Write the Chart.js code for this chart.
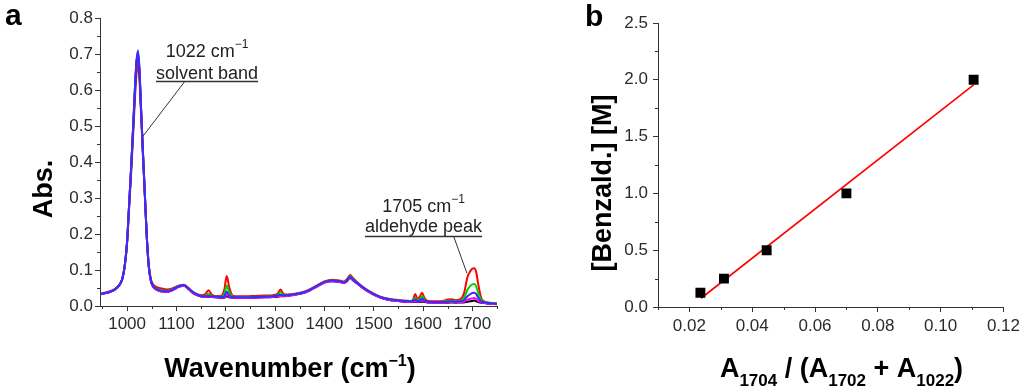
<!DOCTYPE html>
<html>
<head>
<meta charset="utf-8">
<script src="https://cdn.jsdelivr.net/npm/chart.js@4.4.0/dist/chart.umd.min.js"></script>
<style>
body{margin:0;background:#fff;}
.wrap{position:relative;width:1024px;height:390px;overflow:hidden;}
canvas{position:absolute;top:0;}
</style>
</head>
<body>
<div class="wrap">
<canvas id="chartA" width="512" height="390" style="left:0"></canvas>
<canvas id="chartB" width="512" height="390" style="left:512px"></canvas>
</div>
<script>
// ---- panel a: IR spectra ----
const wavenumbers = [945,955,965,975,985,990,995,1000,1004,1008,
  1012,1016,1019,1022,1025,1028,1032,1036,1040,1044,
  1048,1052,1058,1065,1072,1080,1090,1100,1108,1115,
  1122,1130,1140,1150,1158,1165,1172,1180,1190,1197,
  1202,1207,1214,1225,1240,1260,1280,1295,1305,1311,
  1317,1325,1340,1355,1370,1385,1400,1415,1430,1440,
  1446,1452,1458,1465,1475,1490,1505,1520,1540,1560,
  1575,1580,1584,1589,1593,1598,1603,1610,1625,1640,
  1650,1658,1666,1675,1683,1690,1696,1700,1704,1708,
  1712,1718,1725,1735,1750];

const absBlue = [0.033,0.036,0.040,0.046,0.060,0.075,0.110,0.180,0.280,0.380,
  0.490,0.610,0.680,0.710,0.660,0.560,0.430,0.310,0.190,0.110,
  0.072,0.057,0.049,0.044,0.042,0.041,0.045,0.052,0.057,0.058,
  0.052,0.042,0.033,0.028,0.027,0.028,0.027,0.026,0.025,0.027,
  0.040,0.029,0.025,0.024,0.024,0.025,0.026,0.027,0.029,0.031,
  0.030,0.030,0.033,0.037,0.045,0.056,0.067,0.071,0.069,0.066,
  0.072,0.081,0.074,0.066,0.055,0.041,0.030,0.022,0.017,0.014,
  0.013,0.014,0.018,0.014,0.015,0.020,0.015,0.012,0.011,0.011,
  0.012,0.013,0.012,0.013,0.016,0.027,0.033,0.036,0.037,0.033,
  0.022,0.013,0.010,0.008,0.006];

const absRed = [0.034,0.037,0.041,0.047,0.060,0.074,0.108,0.175,0.270,0.365,
  0.470,0.580,0.645,0.670,0.630,0.540,0.420,0.305,0.190,0.112,
  0.076,0.062,0.054,0.050,0.048,0.046,0.048,0.054,0.058,0.059,
  0.053,0.043,0.034,0.030,0.032,0.044,0.031,0.028,0.028,0.045,
  0.083,0.052,0.029,0.027,0.027,0.028,0.029,0.030,0.034,0.046,
  0.034,0.032,0.034,0.038,0.046,0.057,0.068,0.073,0.071,0.068,
  0.075,0.086,0.078,0.068,0.056,0.042,0.031,0.023,0.018,0.015,
  0.014,0.018,0.033,0.020,0.025,0.037,0.022,0.014,0.013,0.014,
  0.018,0.019,0.016,0.018,0.035,0.080,0.097,0.104,0.105,0.093,
  0.060,0.022,0.012,0.009,0.007];

const absGreen = [0.033,0.036,0.040,0.046,0.060,0.075,0.110,0.180,0.280,0.380,
  0.485,0.600,0.670,0.700,0.650,0.555,0.428,0.308,0.190,0.110,
  0.073,0.058,0.050,0.045,0.043,0.042,0.046,0.053,0.057,0.058,
  0.052,0.042,0.033,0.028,0.028,0.034,0.028,0.026,0.026,0.033,
  0.056,0.038,0.026,0.024,0.025,0.025,0.026,0.027,0.030,0.038,
  0.031,0.030,0.033,0.037,0.045,0.056,0.067,0.071,0.069,0.066,
  0.073,0.083,0.075,0.067,0.055,0.041,0.030,0.022,0.017,0.014,
  0.013,0.015,0.023,0.016,0.018,0.027,0.017,0.012,0.011,0.012,
  0.014,0.015,0.013,0.014,0.022,0.045,0.056,0.060,0.061,0.054,
  0.036,0.017,0.011,0.008,0.006];

const absMagenta = [0.032,0.035,0.039,0.045,0.059,0.074,0.110,0.180,0.280,0.380,
  0.490,0.610,0.680,0.705,0.655,0.555,0.428,0.308,0.188,0.108,
  0.070,0.055,0.047,0.042,0.040,0.039,0.043,0.050,0.055,0.056,
  0.050,0.040,0.031,0.026,0.025,0.026,0.025,0.024,0.023,0.024,
  0.031,0.026,0.023,0.022,0.022,0.023,0.024,0.025,0.027,0.028,
  0.028,0.028,0.031,0.035,0.043,0.054,0.065,0.069,0.067,0.064,
  0.070,0.079,0.072,0.064,0.053,0.039,0.028,0.020,0.015,0.012,
  0.011,0.012,0.014,0.012,0.013,0.015,0.013,0.010,0.009,0.009,
  0.010,0.011,0.010,0.011,0.012,0.017,0.020,0.021,0.022,0.019,
  0.014,0.010,0.008,0.006,0.005];

const absBlack = [0.032,0.035,0.039,0.045,0.059,0.074,0.110,0.180,0.280,0.380,
  0.490,0.605,0.675,0.700,0.650,0.555,0.428,0.308,0.188,0.108,
  0.070,0.055,0.047,0.042,0.040,0.039,0.043,0.050,0.055,0.056,
  0.050,0.040,0.031,0.026,0.025,0.025,0.025,0.024,0.023,0.023,
  0.027,0.024,0.023,0.022,0.022,0.023,0.024,0.025,0.026,0.027,
  0.027,0.028,0.031,0.035,0.043,0.054,0.065,0.069,0.067,0.064,
  0.069,0.078,0.071,0.064,0.053,0.039,0.028,0.020,0.015,0.012,
  0.011,0.011,0.012,0.011,0.011,0.012,0.011,0.010,0.009,0.009,
  0.009,0.010,0.009,0.010,0.010,0.012,0.013,0.014,0.015,0.013,
  0.011,0.009,0.008,0.006,0.005];

const xTicksA = [1000,1100,1200,1300,1400,1500,1600,1700];
const xMinorA = [950,1050,1150,1250,1350,1450,1550,1650,1750];
const yTicksA = [0,0.1,0.2,0.3,0.4,0.5,0.6,0.7,0.8];
const yMinorA = [0.05,0.15,0.25,0.35,0.45,0.55,0.65,0.75];

// ---- panel b: calibration ----
const ratio = [0.0235,0.031,0.0446,0.070,0.1105];
const benzald = [0.125,0.25,0.5,1.0,2.0];
const fitX = [0.0237,0.1105];
const fitY = [0.077,1.955];

const xTicksB = [0.02,0.04,0.06,0.08,0.10,0.12];
const xMinorB = [0.01,0.03,0.05,0.07,0.09,0.11];
const yTicksB = [0,0.5,1.0,1.5,2.0,2.5];
const yMinorB = [0.25,0.75,1.25,1.75,2.25];

const FONT = "'Liberation Sans', Arial, sans-serif";
const axisColor = '#333';
const textColor = '#2b2b2b';

const minorTicks = {
  id: 'minorTicks',
  afterDraw(chart, args, opts) {
    const ctx = chart.ctx, xs = chart.scales.x, ys = chart.scales.y;
    ctx.save();
    ctx.strokeStyle = axisColor;
    ctx.lineWidth = 1;
    ctx.beginPath();
    opts.x.forEach(v => {
      const px = Math.round(xs.getPixelForValue(v)) + 0.5;
      ctx.moveTo(px, xs.top); ctx.lineTo(px, xs.top + 3);
    });
    opts.y.forEach(v => {
      const py = Math.round(ys.getPixelForValue(v)) + 0.5;
      ctx.moveTo(ys.right, py); ctx.lineTo(ys.right - 3, py);
    });
    ctx.stroke();
    ctx.restore();
  }
};

function rich(ctx, parts, x, y, center) {
  let w = 0;
  parts.forEach(p => { ctx.font = p.font; w += ctx.measureText(p.t).width; });
  let cx = center ? x - w / 2 : x;
  ctx.textAlign = 'left';
  ctx.textBaseline = 'alphabetic';
  parts.forEach(p => {
    ctx.font = p.font;
    ctx.fillText(p.t, cx, y + (p.dy || 0));
    cx += ctx.measureText(p.t).width;
  });
  return w;
}

function rotatedText(ctx, t, font, x, y) {
  ctx.save();
  ctx.translate(x, y);
  ctx.rotate(-Math.PI / 2);
  ctx.font = font;
  ctx.textAlign = 'center';
  ctx.textBaseline = 'alphabetic';
  ctx.fillText(t, 0, 0);
  ctx.restore();
}

// annotation anchors in data units (wavenumber, absorbance)
const notes = [
  {top: '1022 cm', bottom: 'solvent band', x: 1162, yTop: 0.691, yBottom: 0.631, yLine: 0.624,
   lead: [[1117, 0.624], [1032.4, 0.472]]},
  {top: '1705 cm', bottom: 'aldehyde peak', x: 1601, yTop: 0.262, yBottom: 0.206, yLine: 0.194,
   lead: [[1662, 0.194], [1689, 0.091]]}
];

const textA = {
  id: 'textA',
  afterDraw(chart) {
    const ctx = chart.ctx, xs = chart.scales.x, ys = chart.scales.y;
    ctx.save();
    ctx.fillStyle = '#000';
    ctx.font = 'bold 30px ' + FONT;
    ctx.textAlign = 'left';
    ctx.fillText('a', 5, 25);
    rotatedText(ctx, 'Abs.', 'bold 27px ' + FONT, 52, 189);
    rich(ctx, [
      {t: 'Wavenumber (cm', font: 'bold 27px ' + FONT},
      {t: '\u22121', font: 'bold 16px ' + FONT, dy: -11},
      {t: ')', font: 'bold 27px ' + FONT}
    ], 290, 377, true);

    ctx.fillStyle = '#222';
    ctx.strokeStyle = '#333';
    notes.forEach(n => {
      const cx = xs.getPixelForValue(n.x);
      rich(ctx, [
        {t: n.top, font: '18px ' + FONT},
        {t: '\u22121', font: '12px ' + FONT, dy: -9}
      ], cx, ys.getPixelForValue(n.yTop), true);
      ctx.font = '18px ' + FONT;
      const w = rich(ctx, [{t: n.bottom, font: '18px ' + FONT}], cx, ys.getPixelForValue(n.yBottom), true);
      const ly = Math.round(ys.getPixelForValue(n.yLine)) + 0.5;
      ctx.lineWidth = 1.5;
      ctx.beginPath();
      ctx.moveTo(cx - w / 2, ly); ctx.lineTo(cx + w / 2, ly);
      ctx.stroke();
      ctx.lineWidth = 1;
      ctx.beginPath();
      ctx.moveTo(xs.getPixelForValue(n.lead[0][0]), ys.getPixelForValue(n.lead[0][1]));
      ctx.lineTo(xs.getPixelForValue(n.lead[1][0]), ys.getPixelForValue(n.lead[1][1]));
      ctx.stroke();
    });
    ctx.restore();
  }
};

const textB = {
  id: 'textB',
  afterDraw(chart) {
    const ctx = chart.ctx;
    ctx.save();
    ctx.fillStyle = '#000';
    ctx.font = 'bold 30px ' + FONT;
    ctx.textAlign = 'left';
    ctx.fillText('b', 73, 26);
    rotatedText(ctx, '[Benzald.] [M]', 'bold 27px ' + FONT, 99, 183);
    const big = 'bold 27px ' + FONT, sub = 'bold 17px ' + FONT;
    rich(ctx, [
      {t: 'A', font: big}, {t: '1704', font: sub, dy: 9},
      {t: ' / (A', font: big}, {t: '1702', font: sub, dy: 9},
      {t: ' + A', font: big}, {t: '1022', font: sub, dy: 9},
      {t: ')', font: big}
    ], 329.5, 377, true);
    ctx.restore();
  }
};

function axis(min, max, ticks, fmt, fit, pad) {
  return {
    type: 'linear', min: min, max: max,
    afterBuildTicks: s => { s.ticks = ticks.map(v => ({value: v})); },
    afterFit: fit,
    ticks: {callback: fmt, color: textColor, font: {family: FONT, size: 17}, padding: pad,
      maxRotation: 0, autoSkip: false},
    grid: {drawOnChartArea: false, tickLength: 5, tickColor: axisColor, tickWidth: 1},
    border: {color: axisColor, width: 1}
  };
}

const line = (ys, color) => ({
  data: wavenumbers.map((w, i) => ({x: w, y: ys[i]})),
  borderColor: color, borderWidth: 2, pointRadius: 0,
  cubicInterpolationMode: 'monotone', fill: false
});

new Chart('chartA', {
  type: 'line',
  data: {datasets: [
    line(absBlue, '#3030ff'),
    line(absMagenta, '#ff00ff'),
    line(absBlack, '#000000'),
    line(absGreen, '#00d000'),
    line(absRed, '#ff0000')
  ]},
  options: {
    responsive: false, animation: false, devicePixelRatio: 1,
    layout: {padding: {left: 0, top: 18, right: 15, bottom: 0}},
    plugins: {legend: {display: false}, tooltip: {enabled: false},
      minorTicks: {x: xMinorA, y: yMinorA}},
    scales: {
      x: axis(945, 1750, xTicksA, v => String(v), s => { s.height = 84; }, 3),
      y: axis(0, 0.8, yTicksA, v => v.toFixed(1), s => { s.width = 100; }, 2)
    }
  },
  plugins: [minorTicks, textA]
});

new Chart('chartB', {
  type: 'scatter',
  data: {datasets: [
    {data: ratio.map((r, i) => ({x: r, y: benzald[i]})), pointStyle: 'rect', pointRadius: 7,
     backgroundColor: '#000', borderColor: '#000', borderWidth: 0},
    {type: 'line', data: fitX.map((r, i) => ({x: r, y: fitY[i]})), borderColor: '#ff0000',
     borderWidth: 1.6, pointRadius: 0, fill: false}
  ]},
  options: {
    responsive: false, animation: false, devicePixelRatio: 1,
    layout: {padding: {left: 0, top: 23, right: 19, bottom: 0}},
    plugins: {legend: {display: false}, tooltip: {enabled: false},
      minorTicks: {x: xMinorB, y: yMinorB}},
    scales: {
      x: axis(0.01, 0.12, xTicksB, v => v.toFixed(2), s => { s.height = 83; }, 4),
      y: axis(0, 2.5, yTicksB, v => v.toFixed(1), s => { s.width = 146; }, 5)
    }
  },
  plugins: [minorTicks, textB]
});
</script>
</body>
</html>
